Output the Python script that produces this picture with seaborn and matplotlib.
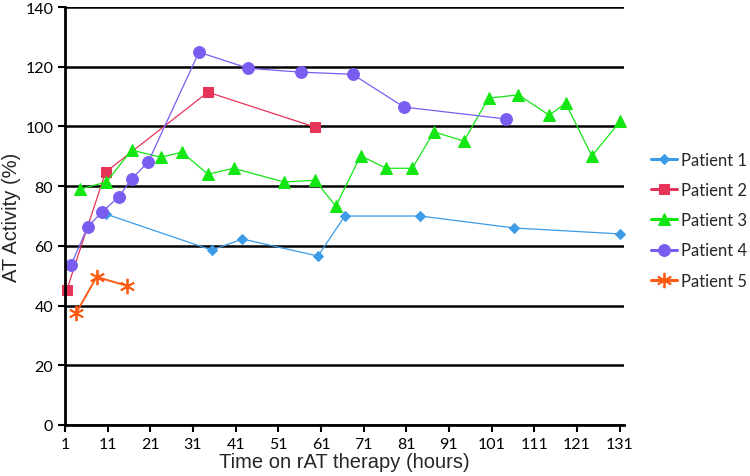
import numpy as np
import pandas as pd
import seaborn as sns
import matplotlib.pyplot as plt

# data
p1_t = [10.5, 35.4, 42.6, 60.3, 66.6, 84.3, 106.3, 131.2]
p1_v = [70.7, 58.6, 62.3, 56.6, 70.0, 70.0, 66.0, 64.0]

p2_t = [1.4, 10.5, 34.5, 59.6]
p2_v = [45.2, 84.7, 111.5, 99.8]

p3_t = [4.5, 10.7, 16.6, 23.5, 28.4, 34.5, 40.5, 52.4, 59.6, 64.5, 70.3,
        76.3, 82.4, 87.5, 94.5, 100.3, 107.3, 114.5, 118.4, 124.5, 131.2]
p3_v = [79.0, 81.4, 92.1, 89.7, 91.4, 84.0, 86.0, 81.4, 82.0, 73.3, 90.2,
        86.0, 86.0, 98.2, 95.1, 109.5, 110.6, 103.8, 107.8, 90.1, 101.8]

p4_t = [2.4, 6.3, 9.6, 13.6, 16.6, 20.5, 32.4, 44.0, 56.3, 68.4, 80.5, 104.5]
p4_v = [53.6, 66.3, 71.3, 76.4, 82.4, 88.1, 124.9, 119.5, 118.2, 117.5, 106.5, 102.5]

p5_t = [3.6, 8.4, 15.6]
p5_v = [37.5, 49.6, 46.6]

names = ["Patient 1", "Patient 2", "Patient 3", "Patient 4", "Patient 5"]
colors = ["#3c9be6", "#e63358", "#14e614", "#7a5cf0", "#ff5a14"]
x_ticks = list(range(1, 132, 10))
y_ticks = list(range(0, 141, 20))

series = [(p1_t, p1_v), (p2_t, p2_v), (p3_t, p3_v), (p4_t, p4_v), (p5_t, p5_v)]
styles = [
    dict(marker="D", markersize=5.5, linewidth=0.9),
    dict(marker="s", markersize=7, linewidth=0.9),
    dict(marker="^", markersize=9, linewidth=0.9),
    dict(marker="o", markersize=8.5, linewidth=0.9),
    dict(marker=(6, 2, 0), markersize=11, linewidth=1.4, markeredgewidth=1.3),
]

sns.set_style("white")
plt.rcParams["font.family"] = ["Lato", "DejaVu Sans"]

fig = plt.figure(figsize=(7.5, 4.77), dpi=100)
ax = fig.add_axes([0.0867, 0.107, 0.745, 0.876])

for name, col, (t, v), st in zip(names, colors, series, styles):
    df = pd.DataFrame({"t": t, "v": v})
    sns.lineplot(data=df, x="t", y="v", ax=ax, color=col, label=name,
                 markeredgecolor=col, clip_on=False, **st)

ax.set_xlim(1, 132)
ax.set_ylim(0, 140)
ax.set_xticks(x_ticks)
ax.set_yticks(y_ticks)
ax.yaxis.grid(True, color="black", linewidth=1.8)
ax.set_axisbelow(True)
for s in ["top", "right"]:
    ax.spines[s].set_visible(False)
for s in ["left", "bottom"]:
    ax.spines[s].set_color("black")
    ax.spines[s].set_linewidth(2)
ax.tick_params(axis="both", direction="out", length=5, width=1.5,
               colors="black", labelsize=11.5, bottom=True, left=True)

ax.set_xlabel("Time on rAT therapy (hours)", fontsize=14.5,
              family=["Liberation Sans"], labelpad=1)
ax.set_ylabel("AT Activity (%)", fontsize=14.5,
              family=["Liberation Sans"], labelpad=3)

leg = ax.legend(loc="center left", bbox_to_anchor=(1.03, 0.49), frameon=False,
                fontsize=12, handlelength=1.6, labelspacing=0.85,
                handletextpad=0.2, borderaxespad=0.2)
for h in leg.get_lines():
    h.set_linewidth(2.2)

fig.savefig("out.png", dpi=100)
